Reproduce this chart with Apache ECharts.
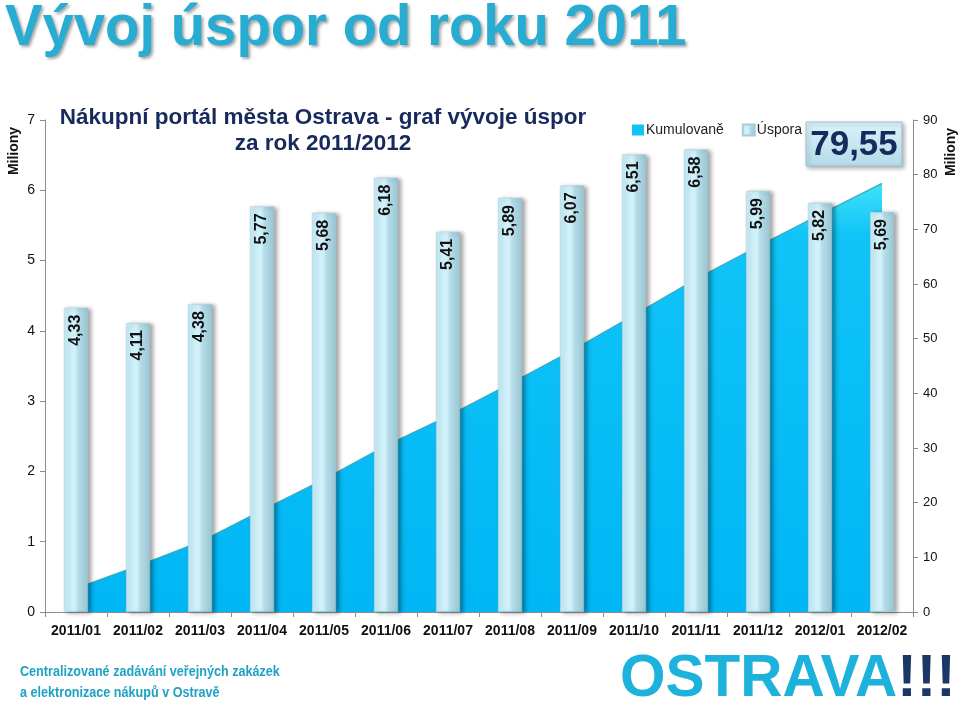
<!DOCTYPE html>
<html>
<head>
<meta charset="utf-8">
<script src="https://cdn.jsdelivr.net/npm/echarts@6/dist/echarts.min.js"></script>
<style>
html,body{margin:0;padding:0;background:#fff;}
#c{width:960px;height:704px;}
</style>
</head>
<body>
<div id="c"></div>
<script>
const categories = ['2011/01','2011/02','2011/03','2011/04','2011/05','2011/06','2011/07','2011/08','2011/09','2011/10','2011/11','2011/12','2012/01','2012/02'];
const savings = [4.33, 4.11, 4.38, 5.77, 5.68, 6.18, 5.41, 5.89, 6.07, 6.51, 6.58, 5.99, 5.82, 5.69];
const cumulative = [4.33, 8.44, 12.82, 18.59, 24.27, 30.45, 35.86, 41.75, 47.82, 54.33, 60.91, 66.90, 72.72, 78.41];
const totalLabel = '79,55';
const seriesNames = ['Kumulovaně', 'Úspora'];

const chart = echarts.init(document.getElementById('c'), null, {renderer: 'canvas'});
const FONT = '"Liberation Sans", Arial, sans-serif';

chart.setOption({
  animation: false,
  backgroundColor: '#ffffff',
  textStyle: {fontFamily: FONT},
  grid: {left: 45, right: 47, top: 120, bottom: 92, containLabel: false},
  legend: {
    left: 627, top: 118,
    itemWidth: 12, itemHeight: 11, itemGap: 18,
    textStyle: {fontSize: 14, color: '#222', fontFamily: FONT, padding: [0, 0, 0, -3]},
    data: [
      {name: seriesNames[0], icon: 'rect'},
      {name: seriesNames[1], icon: 'rect'}
    ]
  },
  xAxis: {
    type: 'category',
    data: categories,
    axisLine: {lineStyle: {color: '#8c8c8c', width: 1}},
    axisTick: {show: true, alignWithLabel: false, length: 5, lineStyle: {color: '#8c8c8c'}},
    axisLabel: {interval: 0, fontSize: 14, fontWeight: 'bold', color: '#111', margin: 12, fontFamily: FONT}
  },
  yAxis: [
    {
      type: 'value', min: 0, max: 7, interval: 1, position: 'left',
      axisLine: {show: true, lineStyle: {color: '#8c8c8c'}},
      axisTick: {show: true, length: 5, lineStyle: {color: '#8c8c8c'}},
      axisLabel: {fontSize: 14, color: '#111', margin: 10, fontFamily: FONT},
      splitLine: {show: false}
    },
    {
      type: 'value', min: 0, max: 90, interval: 10, position: 'right',
      axisLine: {show: true, lineStyle: {color: '#8c8c8c'}},
      axisTick: {show: true, length: 5, lineStyle: {color: '#8c8c8c'}},
      axisLabel: {fontSize: 13, color: '#111', margin: 10, fontFamily: FONT},
      splitLine: {show: false}
    }
  ],
  series: [
    {
      name: seriesNames[0],
      type: 'line',
      yAxisIndex: 1,
      data: cumulative,
      symbol: 'none',
      z: 1,
      itemStyle: {color: '#12c2f5'},
      lineStyle: {color: '#3aa9bb', width: 1.2},
      areaStyle: {
        opacity: 1,
        color: new echarts.graphic.LinearGradient(0, 0, 0, 1, [
          {offset: 0, color: '#3ee2f7'},
          {offset: 0.12, color: '#10c4f8'},
          {offset: 1, color: '#00b6f4'}
        ])
      }
    },
    {
      name: seriesNames[1],
      type: 'bar',
      yAxisIndex: 0,
      data: savings,
      barWidth: 24,
      z: 3,
      itemStyle: {
        color: new echarts.graphic.LinearGradient(0, 0, 1, 0, [
          {offset: 0, color: '#c4ecf8'},
          {offset: 0.45, color: '#d2f2fb'},
          {offset: 0.6, color: '#b5dde9'},
          {offset: 1, color: '#98c4d1'}
        ]),
        borderColor: '#a9ccd6',
        borderWidth: 0.5,
        shadowColor: 'rgba(0,0,0,0.35)',
        shadowBlur: 4,
        shadowOffsetX: 3,
        shadowOffsetY: 1
      },
      label: {
        show: true,
        position: 'insideTop',
        rotate: 90,
        align: 'right',
        verticalAlign: 'middle',
        distance: 7,
        fontSize: 16,
        fontWeight: 'bold',
        color: '#111',
        fontFamily: FONT,
        formatter: p => p.value.toFixed(2).replace('.', ',')
      }
    }
  ],
  graphic: [
    {
      type: 'text', left: 5, top: 0, z: 10,
      scaleX: 0.97,
      style: {
        text: 'Vývoj úspor od roku 2011',
        font: 'bold 58px ' + FONT,
        fill: '#29acd1',
        textShadowColor: 'rgba(0,0,0,0.35)', textShadowBlur: 3, textShadowOffsetX: 2, textShadowOffsetY: 2
      }
    },
    {
      type: 'text', x: 323, y: 105, z: 10,
      style: {
        text: 'Nákupní portál města Ostrava - graf vývoje úspor\nza rok 2011/2012',
        font: 'bold 22.5px ' + FONT,
        fill: '#172a5c',
        textAlign: 'center',
        lineHeight: 26
      }
    },
    {
      type: 'text', x: 14, y: 151, rotation: Math.PI / 2, z: 10,
      style: {text: 'Miliony', font: 'bold 14px ' + FONT, fill: '#111', textAlign: 'center', textVerticalAlign: 'middle'}
    },
    {
      type: 'text', x: 951, y: 152, rotation: Math.PI / 2, z: 10,
      style: {text: 'Miliony', font: 'bold 14px ' + FONT, fill: '#111', textAlign: 'center', textVerticalAlign: 'middle'}
    },
    {
      type: 'group', x: 806, y: 122, z: 10,
      children: [
        {
          type: 'rect', shape: {x: 0, y: 0, width: 96, height: 44},
          style: {
            fill: new echarts.graphic.LinearGradient(0, 0, 0, 1, [
              {offset: 0, color: '#daf3fb'},
              {offset: 1, color: '#b3dbe7'}
            ]),
            stroke: '#9fc3cf', lineWidth: 1,
            shadowColor: 'rgba(0,0,0,0.3)', shadowBlur: 4, shadowOffsetX: 2, shadowOffsetY: 2
          }
        },
        {
          type: 'text', x: 48, y: 23,
          style: {text: totalLabel, font: 'bold 35px ' + FONT, fill: '#172a5c', textAlign: 'center', textVerticalAlign: 'middle'}
        }
      ]
    },
    {
      type: 'text', left: 20, top: 662, z: 10, scaleX: 0.9,
      style: {
        text: 'Centralizované zadávání veřejných zakázek\na elektronizace nákupů v Ostravě',
        font: 'bold 14px ' + FONT,
        fill: '#1ea2c4',
        lineHeight: 21
      }
    },
    {
      type: 'text', left: 620, top: 649, z: 10, scaleX: 0.975,
      style: {
        text: '{a|OSTRAVA}{b|!!!}',
        rich: {
          a: {fontFamily: FONT, fontWeight: 'bold', fontSize: 60, fill: '#1cb2dc'},
          b: {fontFamily: FONT, fontWeight: 'bold', fontSize: 60, fill: '#1b3766'}
        }
      }
    }
  ]
});
</script>
</body>
</html>
